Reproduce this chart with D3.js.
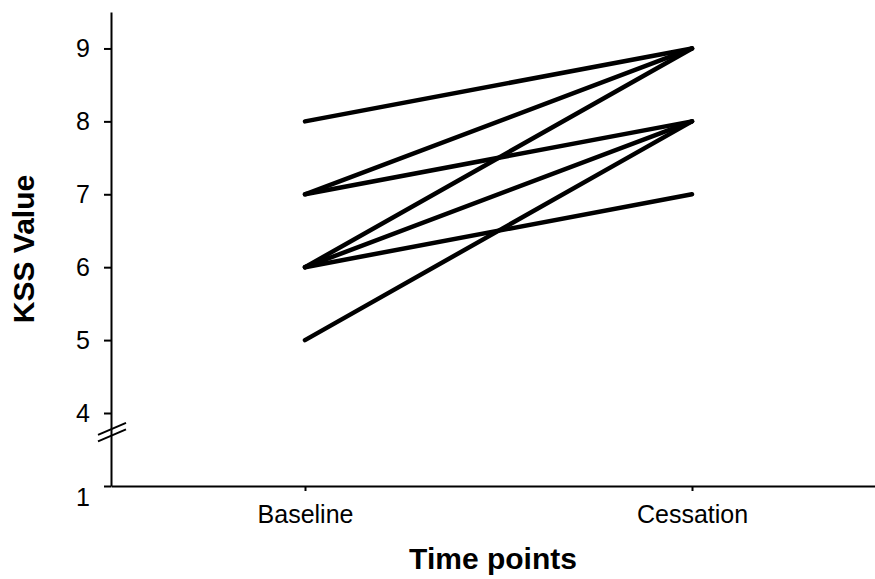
<!DOCTYPE html>
<html>
<head>
<meta charset="utf-8">
<script src="https://cdn.jsdelivr.net/npm/d3@7"></script>
<style>
  body { margin: 0; background: #fff; }
  svg { display: block; font-family: "Liberation Sans", Arial, sans-serif; }
</style>
</head>
<body>
<svg id="chart"></svg>
<script>
// time points and paired KSS values (one pair per subject)
const timePoints = ['Baseline', 'Cessation'];
const baselineKSS = [8, 7, 7, 6, 6, 6, 5];
const cessationKSS = [9, 9, 8, 9, 8, 7, 8];
const yTicks = [1, 4, 5, 6, 7, 8, 9];

const width = 875;
const height = 579;

const svg = d3.select('#chart')
    .attr('width', width)
    .attr('height', height);

// x: point scale, domain path runs off the right edge
const x = d3.scalePoint()
    .domain(timePoints)
    .range([111, 886])
    .padding(0.5013);

// y: broken axis, 1 sits just below 4
const y = d3.scaleLinear()
    .domain([1, 4, 9.5])
    .range([486, 413, 12]);

const line = d3.line()
    .x((d, i) => x(timePoints[i]))
    .y(d => y(d));

const pairs = baselineKSS.map((b, i) => [b, cessationKSS[i]]);

svg.append('g')
    .selectAll('path')
    .data(pairs)
    .join('path')
    .attr('d', line)
    .attr('fill', 'none')
    .attr('stroke', '#000')
    .attr('stroke-width', 4.5)
    .attr('stroke-linecap', 'round');

const xAxis = svg.append('g')
    .attr('transform', `translate(0,${y(1)})`)
    .call(d3.axisBottom(x).tickSize(5).tickSizeOuter(0).tickPadding(14));

const yAxis = svg.append('g')
    .attr('transform', `translate(${x.range()[0]},0)`)
    .call(d3.axisLeft(y).tickValues(yTicks).tickFormat(d3.format('d'))
        .tickSize(7).tickSizeOuter(0).tickPadding(14));

[xAxis, yAxis].forEach(g => {
    g.select('.domain').attr('stroke', '#000').attr('stroke-width', 2);
    g.selectAll('.tick line').attr('stroke', '#000').attr('stroke-width', 2);
    g.selectAll('.tick text')
        .attr('fill', '#000')
        .style('font-size', '25px')
        .style('font-family', '"Liberation Sans", Arial, sans-serif');
});
yAxis.selectAll('.tick text').filter(d => d === 1).attr('dy', '0.76em');

// axis break marks
const breakY = [y(3.35), y(3.08)];
svg.append('g')
    .selectAll('line')
    .data(breakY)
    .join('line')
    .attr('x1', 98)
    .attr('x2', 126)
    .attr('y1', d => d + 6)
    .attr('y2', d => d - 6)
    .attr('stroke', '#000')
    .attr('stroke-width', 2);

// axis titles
svg.append('text')
    .attr('x', 493)
    .attr('y', 569)
    .attr('text-anchor', 'middle')
    .style('font-size', '30px')
    .style('font-weight', 'bold')
    .text('Time points');

svg.append('text')
    .attr('transform', `translate(34,249) rotate(-90)`)
    .attr('text-anchor', 'middle')
    .style('font-size', '30px')
    .style('font-weight', 'bold')
    .text('KSS Value');
</script>
</body>
</html>
